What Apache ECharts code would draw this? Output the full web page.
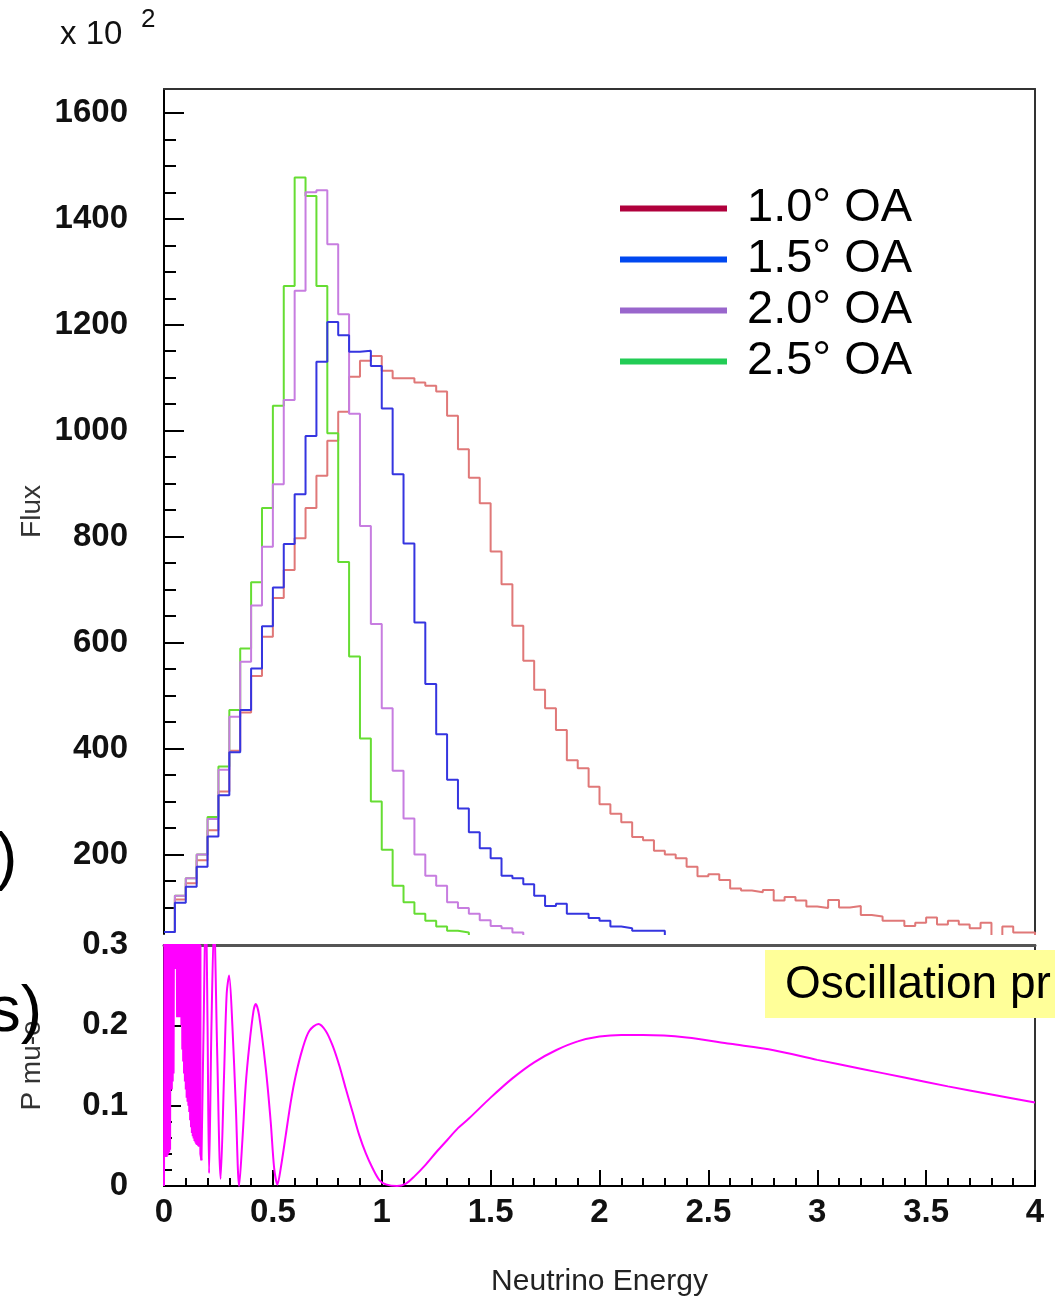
<!DOCTYPE html>
<html>
<head>
<meta charset="utf-8">
<script src="https://cdn.jsdelivr.net/npm/echarts@6/dist/echarts.min.js"></script>
<style>
html,body{margin:0;padding:0;background:#fff;}
#chart{width:1055px;height:1300px;}
</style>
</head>
<body>
<div id="chart"></div>
<script>
// ---------- DATA ----------
const binWidth = 0.05;            // GeV per histogram bin, first bin starts at 0
const emptyBin = 20;              // bins below the plotted minimum
const flux10 = [54,115,146,189,246,319,396,468,537,611,684,737,797,854,915,981,1036,1102,1132,1141,
  1113,1099,1099,1091,1085,1074,1028,965,911,863,772,710,632,566,511,476,435,378,363,328,
  295,277,261,233,227,207,200,193,177,159,163,152,136,132,129,133,113,120,113,102,
  99,114,100,103,86,83,75,75,65,71,81,68,75,68,61,71,40,64,53,53];
const flux15 = [54,109,139,177,234,312,393,473,551,631,704,786,880,990,1130,1205,1180,1149,1151,1122,
  1042,918,787,638,522,427,341,287,242,212,193,160,155,144,122,103,107,88,88,80,
  75,64,61,56,56,56];
const flux20 = [54,122,155,200,267,360,460,564,670,781,899,1058,1264,1450,1454,1352,1220,1032,820,635,
  476,358,268,200,160,141,110,99,88,76,65,61,53];
const flux25 = [54,122,155,200,271,366,473,589,714,854,1047,1273,1478,1443,1273,995,752,574,419,300,
  209,141,110,88,75,64,56,53];
const seriesNames = ['1.0° OA','1.5° OA','2.0° OA','2.5° OA'];
const yTicks = [200,400,600,800,1000,1200,1400,1600];

// oscillation probability, dense (unresolved) low-energy part
const denseE = [0,0.002,0.004,0.006,0.008,0.010,0.012,0.014,0.016,0.018,0.020,0.022,0.024,0.026,0.028,0.030,
  0.032,0.034,0.036,0.038,0.040,0.042,0.044,0.046,0.048,0.050,0.052,0.054,0.056,0.058,0.060,0.062,0.064,
  0.066,0.068,0.070,0.072,0.074,0.076,0.078,0.080,0.082,0.084,0.086,0.088,0.090,0.092,0.094,0.096,0.098,
  0.100,0.102,0.104,0.106,0.108,0.110,0.112,0.114,0.116,0.118,0.120,0.122,0.124,0.126,0.128,0.130,0.132,
  0.134,0.136,0.138,0.140,0.142,0.144,0.146,0.148,0.150,0.152,0.154,0.156,0.158,0.160,0.163,0.167,0.172];
const denseP = [0,0.35,0.036,0.35,0.036,0.35,0.036,0.35,0.038,0.35,0.04,0.35,0.042,0.35,0.045,0.35,
  0.12,0.35,0.12,0.35,0.13,0.35,0.14,0.35,0.27,0.35,0.27,0.35,0.27,0.35,0.21,0.35,0.21,
  0.35,0.21,0.35,0.21,0.35,0.21,0.35,0.20,0.35,0.17,0.35,0.155,0.35,0.14,0.35,0.13,0.35,
  0.12,0.35,0.11,0.35,0.105,0.35,0.10,0.35,0.092,0.35,0.082,0.35,0.073,0.35,0.066,0.35,0.062,
  0.35,0.059,0.35,0.056,0.35,0.054,0.35,0.052,0.35,0.051,0.35,0.05,0.35,0.049,0.35,0.04,0.032];
// oscillation probability, resolved part
const curveE = [0.172,0.182,0.192,0.200,0.207,0.218,0.230,0.244,0.260,0.276,0.288,0.299,0.314,0.330,0.345,
  0.360,0.375,0.391,0.411,0.4215,0.437,0.4675,0.490,0.506,0.521,0.536,0.559,0.582,0.605,0.636,0.667,0.7096,
  0.743,0.774,0.805,0.835,0.866,0.897,0.927,0.958,0.989,1.019,1.07,1.111,1.15,1.2,1.25,1.3,1.35,1.4,1.5,1.6,1.7,
  1.8,1.9,2.0,2.1,2.2,2.4,2.6,2.8,3.0,3.2,3.4,3.6,3.8,4.0];
const curveP = [0.032,0.2,0.36,0.2,0.016,0.2,0.33,0.17,0.009,0.14,0.24,0.262,0.2,0.098,0.0,
  0.057,0.125,0.173,0.218,0.2265,0.212,0.146,0.08,0.022,0.002,0.022,0.063,0.1045,0.1376,0.1707,0.193,0.2017,
  0.193,0.175,0.15,0.121,0.092,0.063,0.0405,0.022,0.0074,0.002,0.0,0.003,0.012,0.026,0.042,0.057,0.072,0.084,0.110,0.134,0.154,
  0.169,0.18,0.186,0.188,0.188,0.185,0.177,0.169,0.157,0.146,0.135,0.124,0.114,0.104];

// ---------- BUILD ----------
function histPairs(vals){
  const out = vals.map((v,i)=>[+(i*binWidth).toFixed(4), v]);
  out.push([+(vals.length*binWidth).toFixed(4), emptyBin]);
  return out;
}
const zip = (a,b)=>a.map((v,i)=>[v,b[i]]);

const FONT = "'Liberation Sans', Arial, sans-serif";
const histColors = {'1.0° OA':'#e07878','1.5° OA':'#3535e0','2.0° OA':'#c77de0','2.5° OA':'#66dd33'};
const legendColors = ['#b0003c','#0048f0','#9966cc','#22cc55'];

const chart = echarts.init(document.getElementById('chart'), null, {renderer:'canvas'});
const labelStyle = {fontFamily:FONT, fontSize:33, fontWeight:'bold', color:'#111'};

const option = {
  backgroundColor:'#fff',
  animation:false,
  grid:[
    {left:164, top:89, width:871, height:845, outerBoundsMode:'none', containLabel:false},
    {left:164, top:945, width:871, height:241, outerBoundsMode:'none', containLabel:false}
  ],
  legend:{
    orient:'vertical', left:615, top:180, itemWidth:107, itemHeight:6, itemGap:4, icon:'rect',
    textStyle:{fontFamily:FONT, fontSize:47, color:'#000', lineHeight:47, padding:[0,0,0,15]},
    data: seriesNames.map((n,i)=>({name:n, itemStyle:{color:legendColors[i]}}))
  },
  xAxis:[
    {gridIndex:0, type:'value', min:0, max:4, position:'top',
     axisLine:{show:true, onZero:false, lineStyle:{color:'#333', width:2}},
     axisTick:{show:false}, axisLabel:{show:false}, splitLine:{show:false}},
    {gridIndex:1, type:'value', min:0, max:4, interval:0.5, position:'bottom',
     name:'Neutrino Energy', nameLocation:'middle', nameGap:81, nameMoveOverlap:false,
     nameTextStyle:{fontFamily:FONT, fontSize:30, color:'#222'},
     axisLine:{show:true, onZero:false, lineStyle:{color:'#000', width:2}},
     axisTick:{show:true, inside:true, length:16, lineStyle:{color:'#000', width:2}},
     minorTick:{show:true, splitNumber:5, length:8, lineStyle:{color:'#000', width:2}},
     axisLabel:Object.assign({margin:10, formatter:v=>String(v)}, labelStyle),
     splitLine:{show:false}},
    {gridIndex:1, type:'value', min:0, max:4, position:'top',
     axisLine:{show:true, onZero:false, lineStyle:{color:'#555', width:3}},
     axisTick:{show:false}, axisLabel:{show:false}, splitLine:{show:false}}
  ],
  yAxis:[
    {gridIndex:0, type:'value', min:50, max:1645, splitNumber:8, position:'left',
     name:'Flux', nameLocation:'middle', nameGap:118, nameRotate:90, nameMoveOverlap:false,
     nameTextStyle:{fontFamily:FONT, fontSize:28, color:'#333'},
     axisLine:{show:true, onZero:false, lineStyle:{color:'#000', width:2}},
     axisTick:{show:true, inside:true, length:20, customValues:yTicks, lineStyle:{color:'#000', width:2}},
     minorTick:{show:true, splitNumber:4, length:12, lineStyle:{color:'#000', width:2}},
     axisLabel:Object.assign({margin:36, customValues:yTicks,
       formatter:v=>(v%200===0 ? String(v) : '')}, labelStyle),
     splitLine:{show:false}},
    {gridIndex:0, type:'value', min:50, max:1645, position:'right',
     axisLine:{show:true, onZero:false, lineStyle:{color:'#333', width:2}},
     axisTick:{show:false}, axisLabel:{show:false}, splitLine:{show:false}},
    {gridIndex:1, type:'value', min:0, max:0.3, interval:0.1, position:'left',
     name:'P mu-e', nameLocation:'middle', nameGap:118, nameRotate:90, nameMoveOverlap:false,
     nameTextStyle:{fontFamily:FONT, fontSize:28, color:'#333'},
     axisLine:{show:true, onZero:false, lineStyle:{color:'#000', width:2}},
     axisTick:{show:true, inside:true, length:17, lineStyle:{color:'#000', width:2}},
     minorTick:{show:true, splitNumber:5, length:8, lineStyle:{color:'#000', width:2}},
     axisLabel:Object.assign({margin:36, formatter:v=>String(+v.toFixed(1))}, labelStyle),
     splitLine:{show:false}},
    {gridIndex:1, type:'value', min:0, max:0.3, position:'right',
     axisLine:{show:true, onZero:false, lineStyle:{color:'#333', width:2}},
     axisTick:{show:false}, axisLabel:{show:false}, splitLine:{show:false}}
  ],
  series:[
    {name:'1.0° OA', type:'line', step:'end', data:histPairs(flux10)},
    {name:'2.5° OA', type:'line', step:'end', data:histPairs(flux25)},
    {name:'2.0° OA', type:'line', step:'end', data:histPairs(flux20)},
    {name:'1.5° OA', type:'line', step:'end', data:histPairs(flux15)}
  ].map(s=>Object.assign(s,{xAxisIndex:0, yAxisIndex:0, showSymbol:false, symbol:'none', clip:true,
      color:histColors[s.name], lineStyle:{color:histColors[s.name], width:2}})).concat([
    {name:'P dense', type:'line', xAxisIndex:1, yAxisIndex:2, data:zip(denseE,denseP), showSymbol:false,
     symbol:'none', clip:true, lineStyle:{color:'#ff00ff', width:2}, color:'#ff00ff',
     areaStyle:{origin:'end', color:'#ff00ff', opacity:1}},
    {name:'P curve', type:'line', xAxisIndex:1, yAxisIndex:2, data:zip(curveE,curveP), showSymbol:false,
     symbol:'none', clip:true, smooth:0.3, lineStyle:{color:'#ff00ff', width:2}, color:'#ff00ff'}
  ]),
  graphic:[
    {type:'text', left:60, top:18, style:{text:'x 10', fontFamily:FONT, fontSize:33, fill:'#111'}},
    {type:'text', left:141, top:7, style:{text:'2', fontFamily:FONT, fontSize:26, fill:'#111'}},
    {type:'rect', shape:{x:765, y:950, width:290, height:68}, style:{fill:'#ffff99'}, z:100},
    {type:'text', x:785, y:985, style:{text:'Oscillation pr', fontFamily:FONT, fontSize:46, fill:'#000',
      verticalAlign:'middle', align:'left'}, z:101},
    {type:'text', x:-4, y:860, style:{text:')', fontFamily:FONT, fontSize:64, fill:'#000', verticalAlign:'middle'}, z:101},
    {type:'text', x:42, y:1013, style:{text:'s)', fontFamily:FONT, fontSize:64, fill:'#000', verticalAlign:'middle', align:'right'}, z:101}
  ]
};
chart.setOption(option);
</script>
</body>
</html>
